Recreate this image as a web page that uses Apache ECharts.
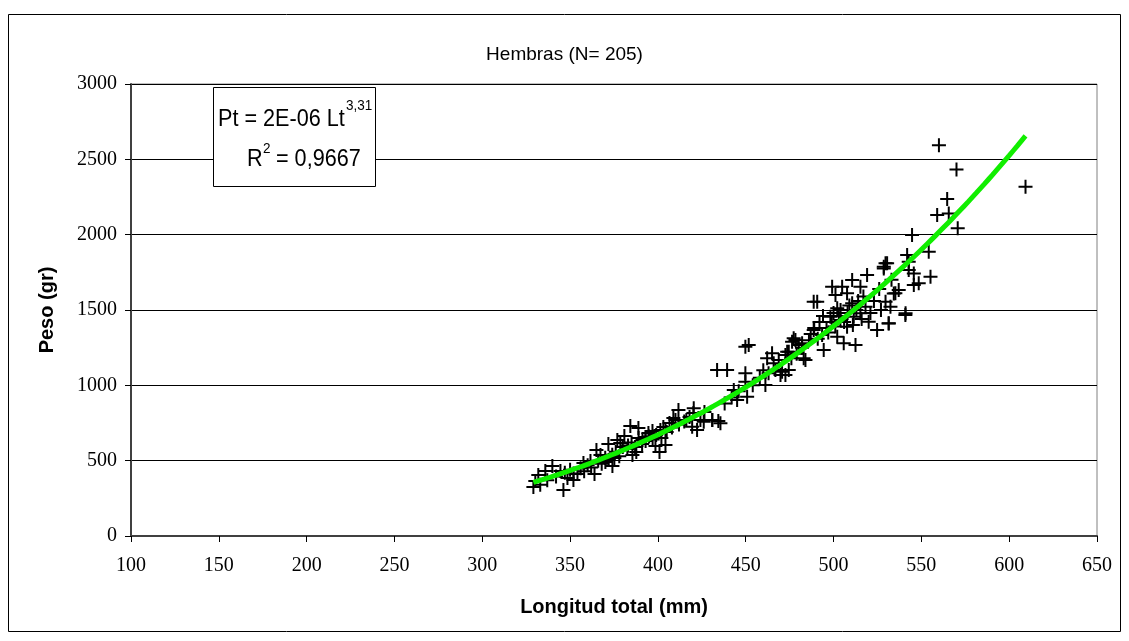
<!DOCTYPE html>
<html>
<head>
<meta charset="utf-8">
<script src="https://cdn.jsdelivr.net/npm/echarts@6/dist/echarts.min.js"></script>
<style>html,body{margin:0;padding:0;background:#fff}#c{width:1129px;height:641px}</style>
</head>
<body>
<div id="c"></div>
<script>
// Longitud total (mm)
const lengths = [
329.1,330.2,331.9,335.9,339.9,344.5,346.2,348.5,351.9,354.2,357.6,361.6,363.9,365.0,367.3,370.1,371.8,374.1,375.2,376.9,
378.6,380.9,382.6,384.3,385.5,387.7,388.9,391.2,392.9,394.6,396.9,398.6,400.9,401.4,403.1,406.6,408.8,411.7,416.2,420.2,
424.2,426.5,431.0,434.4,
404.3,404.3,410.0,420.4,419.5,422.3,426.1,430.9,435.6,433.7,439.4,449.8,451.7,449.8,449.8,443.2,445.1,450.8,461.2,462.2,
465.0,465.9,466.9,469.8,468.8,472.6,474.5,477.3,480.2,483.0,474.5,
470.7,472.6,473.6,476.4,478.3,482.1,484.0,488.7,490.7,488.7,493.5,494.4,498.2,499.2,501.1,504.9,507.7,507.7,503.9,502.1,
505.8,510.6,511.5,512.5,515.3,515.3,518.2,519.1,520.0,524.8,528.6,530.5,531.4,535.2,540.9,542.8,545.7,537.1,510.6,502.1,
560.0,570.0,609.3,564.7,559.0,565.6,570.7,544.7,541.9,554.2,529.6,528.6,542.8,545.7,548.5,555.2,534.3,529.6,532.4,541.0,
531.4,
333,337,342,347,350,352,356,358,360,362,366,368,370,372,374,376,378,380,383,385,
387,389,391,393,395,397,399,402,405,408,412,415,418,438,442,446,454,458,460,463,
476,479,482,486,487,489,491,492,494,496,497,499,500,501,503,504,506,508,509,511,
513,514,516,517,521,523,526,527,533
];
// Peso (gr)
const weights = [
325,365,405,431,465,431,305,385,372,411,484,498,411,571,538,491,611,465,518,637,
617,664,577,730,538,558,717,637,657,684,697,597,558,704,723,750,783,836,770,816,
770,823,770,763,
704,604,770,848,725,704,759,770,748,1102,1102,1256,1268,1080,1024,969,903,925,1002,1179,
1213,1146,1102,1069,1168,1201,1223,1312,1268,1179,1102,
1090,1069,1223,1290,1301,1279,1168,1555,1555,1367,1334,1234,1455,1655,1600,1655,1611,1389,1434,1323,
1279,1544,1455,1268,1655,1478,1522,1732,1422,1367,1787,1810,1412,1611,1467,1821,1666,1633,1699,1511,
2594,2433,2318,2236,2130,2141,2042,1997,1865,1887,1810,1776,1765,1743,1677,1721,1610,1555,1522,1478,
1411,
340,370,395,420,440,415,450,430,470,455,500,480,520,505,540,560,530,590,600,620,
590,650,610,630,660,640,670,650,690,720,740,760,790,880,920,960,1000,1050,1100,1080,
1180,1210,1250,1300,1340,1380,1310,1420,1460,1380,1350,1420,1480,1390,1460,1500,1420,1480,1530,1400,
1500,1560,1440,1590,1480,1560,1640,1500,1700
];
const xTicks = [100,150,200,250,300,350,400,450,500,550,600,650];
const yTicks = [0,500,1000,1500,2000,2500,3000];
const titleText = 'Hembras (N= 205)';
const xName = 'Longitud total (mm)';
const yName = 'Peso (gr)';
const eqLine1 = 'Pt = 2E-06 Lt';
const eqExp = '3,31';
const eqLine2 = ' = 0,9667';

const points = lengths.map((x, i) => [x, weights[i]]);

// Power trend line fitted to the data (log-log least squares, as a spreadsheet trendline does)
let sx=0, sy=0, sxx=0, sxy=0, n=points.length;
points.forEach(p => { const lx=Math.log(p[0]), ly=Math.log(p[1]); sx+=lx; sy+=ly; sxx+=lx*lx; sxy+=lx*ly; });
const b = (n*sxy - sx*sy)/(n*sxx - sx*sx);
const a = Math.exp((sy - b*sx)/n);
const xMin = Math.min(...lengths), xMax = Math.max(...lengths);
const trend = [];
for (let k = 0; k <= 60; k++) { const x = xMin + (xMax - xMin)*k/60; trend.push([x, a*Math.pow(x, b)]); }

const eqFont = '24px "Liberation Sans", Arial';
const supFont = '15px "Liberation Sans", Arial';

const chart = echarts.init(document.getElementById('c'), null, {renderer: 'canvas'});
chart.setOption({
  animation: false,
  backgroundColor: '#fff',
  title: {text: titleText, left: 'center', top: 40,
    textStyle: {fontFamily: 'Liberation Sans, Arial', fontSize: 19, fontWeight: 'normal', color: '#000'}},
  grid: {left: 131, right: 32, top: 84, bottom: 105, show: true, borderColor: '#808080', borderWidth: 1},
  xAxis: {type: 'value', min: xTicks[0], max: xTicks[xTicks.length-1], interval: 50,
    name: xName, nameLocation: 'middle', nameGap: 71,
    nameTextStyle: {fontFamily: 'Liberation Sans, Arial', fontSize: 20, fontWeight: 'bold', color: '#000', verticalAlign: 'middle'},
    axisLine: {show: true, onZero: false, lineStyle: {color: '#404040', width: 2}},
    axisTick: {show: true, length: 6, lineStyle: {color: '#000', width: 1}},
    axisLabel: {fontFamily: 'Liberation Serif, Times New Roman', fontSize: 20, color: '#000', margin: 20,
      formatter: v => String(v)},
    splitLine: {show: false}},
  yAxis: {type: 'value', min: yTicks[0], max: yTicks[yTicks.length-1], interval: 500,
    name: yName, nameLocation: 'middle', nameGap: 84, nameRotate: 90,
    nameTextStyle: {fontFamily: 'Liberation Sans, Arial', fontSize: 20, fontWeight: 'bold', color: '#000', verticalAlign: 'middle'},
    axisLine: {show: true, lineStyle: {color: '#404040', width: 2}},
    axisTick: {show: true, length: 6, lineStyle: {color: '#000', width: 1}},
    axisLabel: {fontFamily: 'Liberation Serif, Times New Roman', fontSize: 20, color: '#000', margin: 14,
      formatter: v => String(v)},
    splitLine: {show: true, lineStyle: {color: '#000', width: 1}}},
  series: [
    {type: 'scatter', data: points, symbol: 'path://M0,7L14,7M7,0L7,14', symbolSize: 14,
      itemStyle: {color: 'none', borderColor: '#000', borderWidth: 2, opacity: 1}, z: 2},
    {type: 'line', data: trend, showSymbol: false, smooth: true,
      lineStyle: {color: '#11ee00', width: 5}, z: 3}
  ],
  graphic: [
    {type: 'rect', shape: {x: 8.5, y: 14.5, width: 1112, height: 617}, style: {fill: 'none', stroke: '#000', lineWidth: 1}, z: -10, silent: true},
    {type: 'rect', shape: {x: 213.5, y: 87.5, width: 162, height: 99}, style: {fill: '#fff', stroke: '#000', lineWidth: 1}, z: 100},
    {type: 'text', x: 218, y: 107, scaleX: 0.9, z: 101, style: {text: eqLine1, font: eqFont, fill: '#000', verticalAlign: 'top'}},
    {type: 'text', x: 346, y: 98, scaleX: 0.9, z: 101, style: {text: eqExp, font: supFont, fill: '#000', verticalAlign: 'top'}},
    {type: 'text', x: 247, y: 147, scaleX: 0.9, z: 101, style: {text: 'R', font: eqFont, fill: '#000', verticalAlign: 'top'}},
    {type: 'text', x: 263, y: 141, scaleX: 0.9, z: 101, style: {text: '2', font: supFont, fill: '#000', verticalAlign: 'top'}},
    {type: 'text', x: 270, y: 147, scaleX: 0.9, z: 101, style: {text: eqLine2, font: eqFont, fill: '#000', verticalAlign: 'top'}}
  ]
});
</script>
</body>
</html>
